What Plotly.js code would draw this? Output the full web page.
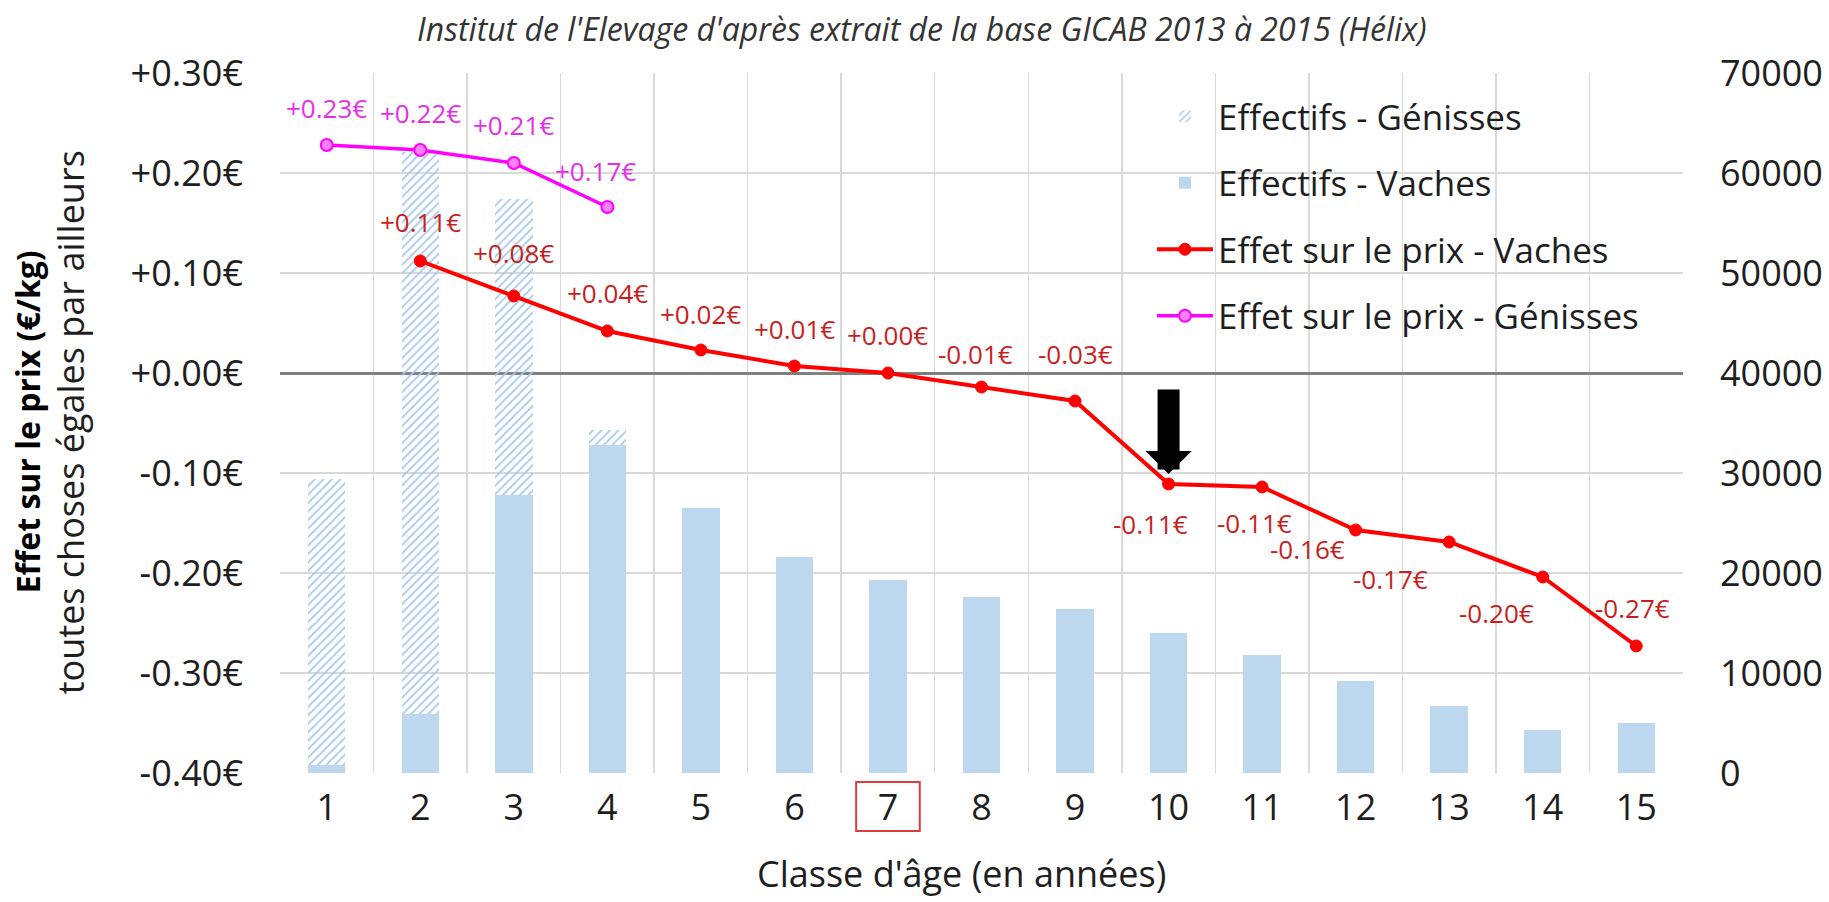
<!DOCTYPE html>
<html>
<head>
<meta charset="utf-8">
<script src="https://cdn.plot.ly/plotly-3.0.1.min.js"></script>
<style>
  html, body { margin: 0; padding: 0; background: #ffffff; }
  #chart { width: 1829px; height: 902px; }
</style>
</head>
<body>
<div id="chart"></div>
<script>
// ---------------- data ----------------
const classes = [1, 2, 3, 4, 5, 6, 7, 8, 9, 10, 11, 12, 13, 14, 15];
const effectifsVaches = [800, 5900, 27800, 32800, 26500, 21600, 19300, 17600, 16400, 14000, 11800, 9200, 6700, 4300, 5000];
const effectifsGenisses = [28600, 56200, 29600, 1500, null, null, null, null, null, null, null, null, null, null, null];
const prixVaches = [null, 0.112, 0.077, 0.042, 0.023, 0.007, 0.000, -0.014, -0.028, -0.111, -0.114, -0.157, -0.169, -0.204, -0.273];
const prixGenisses = [0.228, 0.223, 0.210, 0.166, null, null, null, null, null, null, null, null, null, null, null];
const priceTicks = [-0.4, -0.3, -0.2, -0.1, 0, 0.1, 0.2, 0.3];
const priceTickLabels = ['-0.40€', '-0.30€', '-0.20€', '-0.10€', '+0.00€', '+0.10€', '+0.20€', '+0.30€'];
const countTicks = [0, 10000, 20000, 30000, 40000, 50000, 60000, 70000];
const countTickLabels = ['0', '10000', '20000', '30000', '40000', '50000', '60000', '70000'];
const seriesNames = ['Effectifs - Génisses', 'Effectifs - Vaches', 'Effet sur le prix - Vaches', 'Effet sur le prix - Génisses'];
const titleText = "Institut de l'Elevage d'après extrait de la base GICAB 2013 à 2015 (Hélix)";
const xTitleText = "Classe d'âge (en années)";
const yTitleBold = 'Effet sur le prix (€/kg)';
const yTitleSub = 'toutes choses égales par ailleurs';
const arrowClass = 10;
const boxedClass = 7;

// ---------------- styling (label offsets in px: [dx, dy]) ----------------
const redLabelOffsets = [null, [0,-39], [0,-43], [0,-38], [0,-36], [0,-37], [0,-38], [-6,-33], [0,-47], [-18,40], [-8,36], [-48,19], [-59,37], [-46,36], [-4,-38]];
const pinkLabelOffsets = [[0,-37], [0,-37], [0,-38], [-12,-36]];
const FONT = 'Open Sans, Noto Sans, sans-serif';
const TXT = '#1e1e1e';
const GRID = '#d9d9d9';
const BAR_BLUE = '#bdd7ee';
const RED = '#ff0000';
const PINK = '#ff00ff';

const fmt = v => (v >= 0 ? '+' : '-') + Math.abs(v).toFixed(2) + '€';

const traces = [
  {
    type: 'bar', name: seriesNames[1], x: classes, y: effectifsVaches,
    xaxis: 'x', yaxis: 'y',
    marker: { color: BAR_BLUE, line: { width: 0 } },
    legendgroup: 'g2', legendrank: 2, hoverinfo: 'skip'
  },
  {
    type: 'bar', name: seriesNames[0], x: classes, y: effectifsGenisses,
    xaxis: 'x', yaxis: 'y',
    marker: { color: '#a4c8ea', line: { width: 0 },
      pattern: { shape: '/', fgcolor: '#a4c8ea', size: 6, solidity: 0.3, fillmode: 'replace' } },
    legendgroup: 'g1', legendrank: 1, hoverinfo: 'skip'
  },
  {
    type: 'scatter', mode: 'lines+markers', name: seriesNames[2], x: classes, y: prixVaches,
    xaxis: 'x', yaxis: 'y2',
    line: { color: RED, width: 4 },
    marker: { color: RED, size: 12, line: { color: RED, width: 1 } },
    legendgroup: 'g3', legendrank: 3, hoverinfo: 'skip', cliponaxis: false
  },
  {
    type: 'scatter', mode: 'lines+markers', name: seriesNames[3], x: classes, y: prixGenisses,
    xaxis: 'x', yaxis: 'y2',
    line: { color: PINK, width: 3.5 },
    marker: { color: '#ff80ff', size: 12, line: { color: PINK, width: 2 } },
    legendgroup: 'g4', legendrank: 4, hoverinfo: 'skip', cliponaxis: false
  }
];

const annotations = [];
prixVaches.forEach((v, i) => {
  if (v === null) return;
  const off = redLabelOffsets[i];
  annotations.push({
    x: classes[i], y: v, xref: 'x', yref: 'y2', text: fmt(v), showarrow: false,
    xshift: off[0], yshift: -off[1], xanchor: 'center', yanchor: 'middle',
    font: { family: FONT, size: 26, color: '#c81e1e' }
  });
});
prixGenisses.forEach((v, i) => {
  if (v === null) return;
  const off = pinkLabelOffsets[i];
  annotations.push({
    x: classes[i], y: v, xref: 'x', yref: 'y2', text: fmt(v), showarrow: false,
    xshift: off[0], yshift: -off[1], xanchor: 'center', yanchor: 'middle',
    font: { family: FONT, size: 26, color: '#e62ee6' }
  });
});
// highlight arrow pointing at the 10-year point
const ai = classes.indexOf(arrowClass);
annotations.push({
  x: classes[ai], y: prixVaches[ai], xref: 'x', yref: 'y2',
  ax: 0, ay: -96, showarrow: true, text: '',
  arrowhead: 1, arrowsize: 0.35, arrowwidth: 22, arrowcolor: '#000000', standoff: 10
});
// axis titles
annotations.push({
  xref: 'paper', yref: 'paper', x: 0.486, y: -0.143, text: xTitleText, showarrow: false,
  xanchor: 'center', yanchor: 'middle', font: { family: FONT, size: 36, color: TXT }
});
annotations.push({
  xref: 'paper', yref: 'paper', x: -0.1803, y: 0.501, text: '<b>' + yTitleBold + '</b>', showarrow: false,
  textangle: -90, xanchor: 'center', yanchor: 'middle', font: { family: FONT, size: 32, color: '#000000' }
});
annotations.push({
  xref: 'paper', yref: 'paper', x: -0.1497, y: 0.501, text: yTitleSub, showarrow: false,
  textangle: -90, xanchor: 'center', yanchor: 'middle', font: { family: FONT, size: 36, color: TXT }
});

const layout = {
  width: 1829, height: 902,
  paper_bgcolor: '#ffffff', plot_bgcolor: '#ffffff',
  margin: { l: 280, r: 146, t: 73, b: 129 },
  font: { family: FONT, color: TXT },
  title: {
    text: titleText, x: 0.504, xref: 'container', xanchor: 'center',
    y: 0.967, yref: 'container', yanchor: 'middle',
    font: { family: FONT, size: 32, style: 'italic', color: '#333333' }
  },
  barmode: 'stack', bargap: 0.6,
  showlegend: true,
  legend: {
    x: 0.6215, xanchor: 'left', y: 0.98, yanchor: 'top',
    bgcolor: 'rgba(255,255,255,0)', borderwidth: 0,
    font: { family: FONT, size: 35, color: TXT },
    traceorder: 'grouped', tracegroupgap: 18, itemwidth: 56
  },
  xaxis: {
    type: 'linear', range: [0.5, 15.5], automargin: false,
    tickmode: 'array', tickvals: classes, ticktext: classes.map(String),
    showgrid: false, zeroline: false, showline: false, ticks: '',
    ticklabelstandoff: 10,
    tickfont: { family: FONT, size: 36, color: TXT },
    minor: { tickmode: 'linear', tick0: 0.5, dtick: 1, showgrid: true, gridcolor: GRID, gridwidth: 1.5, ticks: '' }
  },
  yaxis: {
    range: [0, 70000], side: 'right', automargin: false,
    tickmode: 'array', tickvals: countTicks, ticktext: countTickLabels,
    showgrid: false, zeroline: false, showline: false, ticks: '',
    ticklabelstandoff: 36,
    tickfont: { family: FONT, size: 36, color: TXT }
  },
  yaxis2: {
    range: [-0.4, 0.3], overlaying: 'y', side: 'left', automargin: false,
    tickmode: 'array', tickvals: priceTicks, ticktext: priceTickLabels,
    showgrid: true, gridcolor: GRID, gridwidth: 1.5,
    zeroline: true, zerolinecolor: '#808080', zerolinewidth: 3,
    showline: false, ticks: '',
    ticklabelstandoff: 36,
    tickfont: { family: FONT, size: 36, color: TXT }
  },
  shapes: [
    {
      type: 'rect', xref: 'x', yref: 'paper',
      x0: boxedClass - 0.34, x1: boxedClass + 0.34, y0: -0.083, y1: -0.013,
      line: { color: '#e03c3c', width: 2 }, fillcolor: 'rgba(0,0,0,0)'
    }
  ],
  annotations: annotations
};

Plotly.newPlot('chart', traces, layout, { displayModeBar: false, staticPlot: true });
</script>
</body>
</html>
